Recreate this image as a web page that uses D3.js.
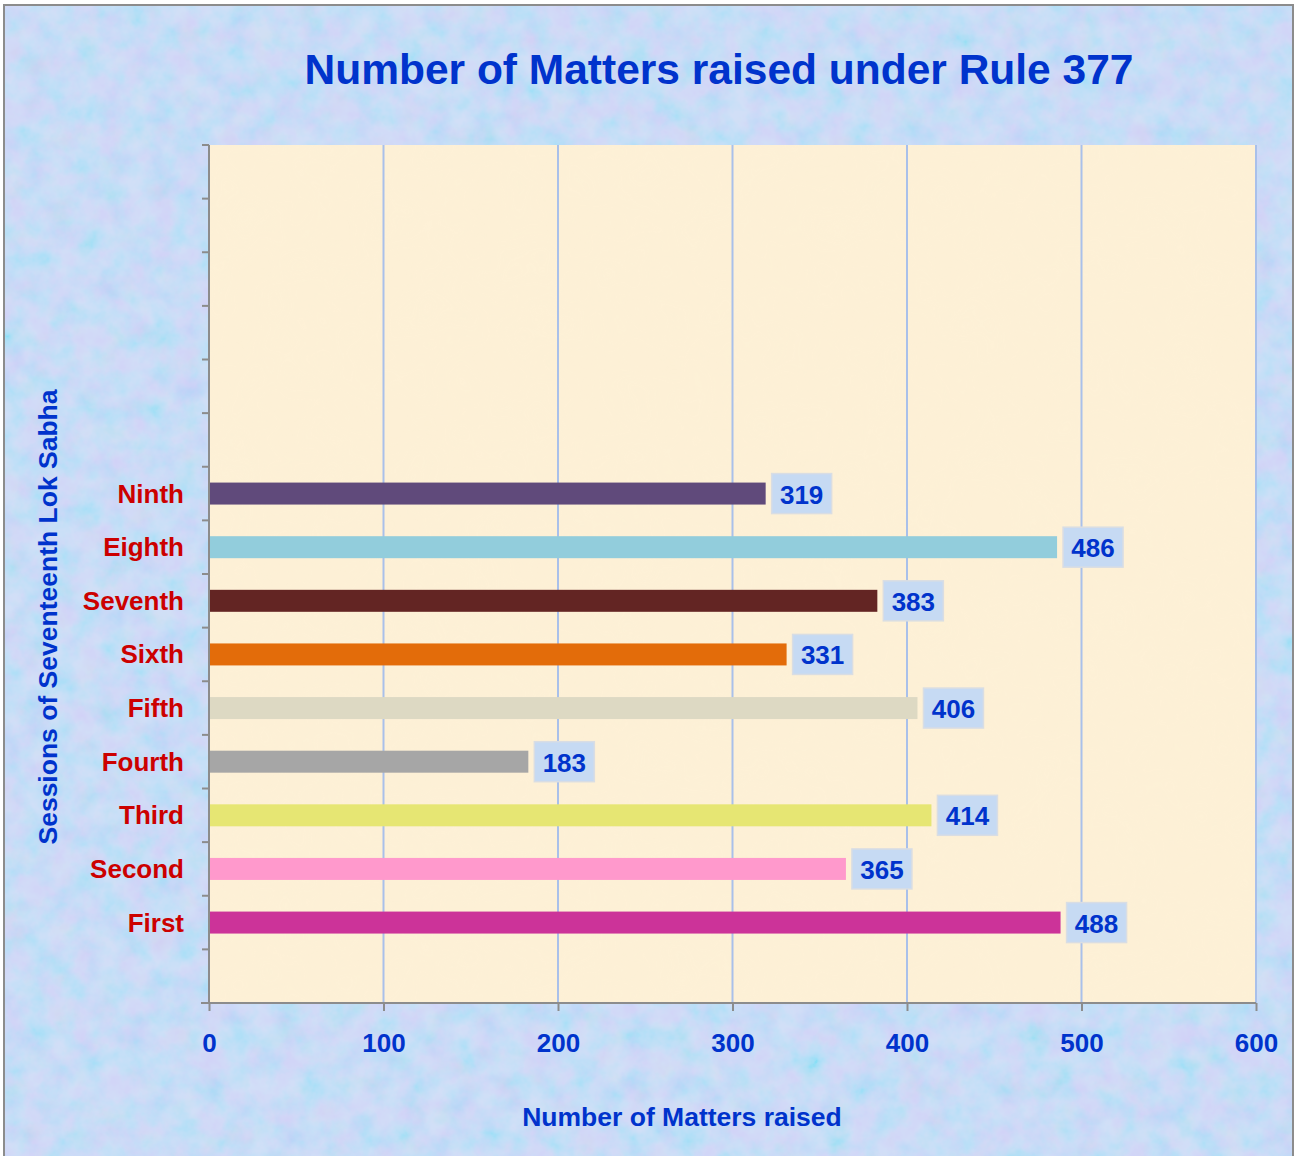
<!DOCTYPE html>
<html>
<head>
<meta charset="utf-8">
<script src="https://cdn.jsdelivr.net/npm/d3@7"></script>
<style>
  html, body { margin: 0; padding: 0; background: #ffffff; }
  svg { display: block; font-family: "Liberation Sans", Arial, sans-serif; }
</style>
</head>
<body>
<svg id="chart"></svg>
<script>
// chart size
const width = 1296;
const height = 1156;

// data
const sessions = ["First", "Second", "Third", "Fourth", "Fifth", "Sixth", "Seventh", "Eighth", "Ninth"];
const matters = [488, 365, 414, 183, 406, 331, 383, 486, 319];
const barColors = ["#cc3399", "#ff99cc", "#e6e673", "#a6a6a6", "#ddd9c3", "#e36c0a", "#632523", "#92cddc", "#604a7b"];
const xTicks = [0, 100, 200, 300, 400, 500, 600];
// empty category slots the original sheet kept below and above the sessions
const emptyBelow = 1;
const emptyAbove = 6;

const margin = { top: 145, right: 40, bottom: 153, left: 209 };
const plotW = 1256 - margin.left;
const plotH = 1003 - margin.top;

const svg = d3.select("#chart")
    .attr("width", width)
    .attr("height", height);

// textures for the background and the plot area
const defs = svg.append("defs");
const noise = defs.append("filter").attr("id", "noise")
    .attr("x", 0).attr("y", 0).attr("width", "100%").attr("height", "100%");
noise.append("feTurbulence")
    .attr("type", "fractalNoise")
    .attr("baseFrequency", 0.04)
    .attr("numOctaves", 4)
    .attr("seed", 7);
noise.append("feColorMatrix")
    .attr("type", "matrix")
    .attr("values", "1.4 -0.6 0 0 0.35  0 0.7 0 0 0.55  0 0 0.4 0 0.8  0 0 0 0 0.5");

const paper = defs.append("filter").attr("id", "paper")
    .attr("x", 0).attr("y", 0).attr("width", "100%").attr("height", "100%");
paper.append("feTurbulence")
    .attr("type", "fractalNoise")
    .attr("baseFrequency", 0.02)
    .attr("numOctaves", 2)
    .attr("seed", 3);
paper.append("feColorMatrix")
    .attr("type", "matrix")
    .attr("values", "0 0 0 0 0.98  0 0 0 0 0.9  0 0 0 0 0.7  0.5 0 0 0 -0.1");

// outer frame + background
svg.append("rect")
    .attr("x", 4).attr("y", 5)
    .attr("width", 1289).attr("height", 1160)
    .style("fill", "#bfd3f4");
svg.append("rect")
    .attr("x", 4).attr("y", 5)
    .attr("width", 1289).attr("height", 1160)
    .attr("filter", "url(#noise)")
    .style("opacity", 0.55);
svg.append("rect")
    .attr("x", 4).attr("y", 5)
    .attr("width", 1289).attr("height", 1160)
    .style("fill", "none")
    .style("stroke", "#8c8c8c")
    .style("stroke-width", 2);

// scales
const slots = d3.range(emptyBelow + sessions.length + emptyAbove);
const y = d3.scaleBand()
    .domain(slots.slice().reverse())
    .range([0, plotH]);

const x = d3.scaleLinear()
    .domain([0, 600])
    .range([0, plotW]);

const rows = sessions.map((s, i) => ({
    slot: i + emptyBelow,
    name: s,
    value: matters[i],
    color: barColors[i]
}));

const g = svg.append("g")
    .attr("transform", `translate(${margin.left},${margin.top})`);

// plot area
g.append("rect")
    .attr("width", plotW).attr("height", plotH)
    .style("fill", "#fdf0d6");
g.append("rect")
    .attr("width", plotW).attr("height", plotH)
    .attr("filter", "url(#paper)")
    .style("opacity", 0.35);

// vertical gridlines
g.selectAll(".grid")
    .data(xTicks.filter(d => d > 0))
    .enter().append("line")
    .attr("class", "grid")
    .attr("x1", d => x(d)).attr("x2", d => x(d))
    .attr("y1", 0).attr("y2", plotH)
    .style("stroke", "#a9c0ea")
    .style("stroke-width", 2);

// bars
const barH = y.bandwidth() * 0.41;
g.selectAll(".bar")
    .data(rows)
    .enter().append("rect")
    .attr("class", "bar")
    .attr("x", 0)
    .attr("y", d => y(d.slot) + (y.bandwidth() - barH) / 2)
    .attr("width", d => x(d.value))
    .attr("height", barH)
    .style("fill", d => d.color);

// value labels in boxes
const lbl = g.selectAll(".lbl")
    .data(rows)
    .enter().append("g")
    .attr("class", "lbl")
    .attr("transform", d => `translate(${x(d.value) + 6},${y(d.slot) + y.bandwidth() / 2})`);
lbl.append("rect")
    .attr("x", 0).attr("y", -20)
    .attr("width", 60).attr("height", 40)
    .style("fill", "#c6daf3")
    .style("stroke", "#d9dde3")
    .style("stroke-width", 1.5);
lbl.append("text")
    .attr("x", 30).attr("y", 10)
    .attr("text-anchor", "middle")
    .style("font-size", "26px")
    .style("font-weight", "bold")
    .style("fill", "#0033cc")
    .text(d => d.value);

// y axis: line, ticks between categories, labels
g.append("line")
    .attr("x1", 0).attr("x2", 0)
    .attr("y1", 0).attr("y2", plotH)
    .style("stroke", "#8c8c8c").style("stroke-width", 2);
g.selectAll(".ytick")
    .data(slots)
    .enter().append("line")
    .attr("class", "ytick")
    .attr("x1", -7).attr("x2", 0)
    .attr("y1", d => y(d)).attr("y2", d => y(d))
    .style("stroke", "#8c8c8c").style("stroke-width", 2);
g.selectAll(".ylab")
    .data(rows)
    .enter().append("text")
    .attr("class", "ylab")
    .attr("x", -25)
    .attr("y", d => y(d.slot) + y.bandwidth() / 2 + 9)
    .attr("text-anchor", "end")
    .style("font-size", "26px")
    .style("font-weight", "bold")
    .style("fill", "#cc0000")
    .text(d => d.name);

// x axis
const xAxis = g.append("g")
    .attr("transform", `translate(0,${plotH})`)
    .call(d3.axisBottom(x).tickValues(xTicks).tickSize(8).tickPadding(23).tickSizeOuter(0));
xAxis.select(".domain")
    .attr("d", `M${-8},0H${plotW}`)
    .style("stroke", "#8c8c8c").style("stroke-width", 2);
xAxis.selectAll(".tick line")
    .style("stroke", "#8c8c8c").style("stroke-width", 2);
xAxis.selectAll(".tick text")
    .style("font-size", "26px")
    .style("font-weight", "bold")
    .style("font-family", "Liberation Sans, Arial, sans-serif")
    .style("fill", "#0033cc");

// titles
svg.append("text")
    .attr("x", 719).attr("y", 84)
    .attr("text-anchor", "middle")
    .style("font-size", "42.5px")
    .style("font-weight", "bold")
    .style("fill", "#0033cc")
    .text("Number of Matters raised under Rule 377");

svg.append("text")
    .attr("x", 682).attr("y", 1126)
    .attr("text-anchor", "middle")
    .style("font-size", "26.5px")
    .style("font-weight", "bold")
    .style("fill", "#0033cc")
    .text("Number of Matters raised");

svg.append("text")
    .attr("transform", "translate(57,617) rotate(-90)")
    .attr("text-anchor", "middle")
    .style("font-size", "26.5px")
    .style("font-weight", "bold")
    .style("fill", "#0033cc")
    .text("Sessions of Seventeenth Lok Sabha");
</script>
</body>
</html>
